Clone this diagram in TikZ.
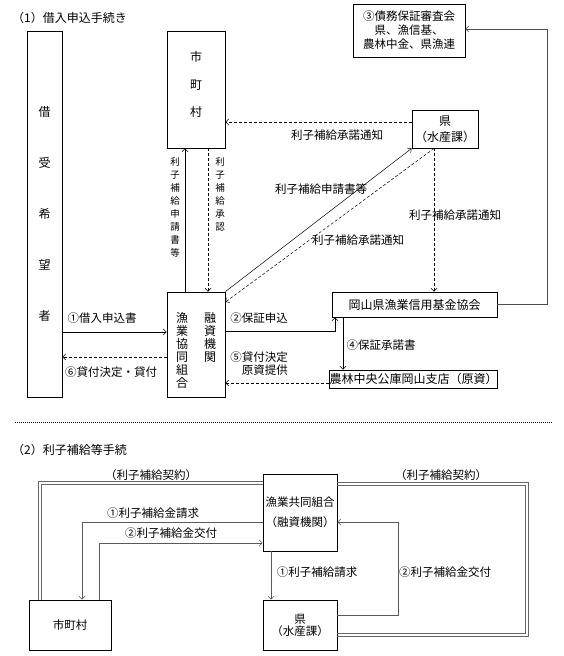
\documentclass[tikz,border=0pt]{standalone}
\usepackage{fontspec}
\setmainfont{Noto Sans CJK JP}
\usetikzlibrary{arrows.meta}
\begin{document}
\begin{tikzpicture}[x=1pt,y=-1pt,
  box/.style={draw, line width=0.9pt, inner sep=0pt, align=center, font=\fontsize{12}{14}\selectfont},
  lbl/.style={inner sep=0pt, font=\fontsize{11.5}{13}\selectfont},
  vlbl/.style={inner sep=0pt, align=center, font=\fontsize{9.5}{13}\selectfont},
  con/.style={line width=0.5pt, -{Straight Barb[length=3pt,width=6pt]}},
  dsh/.style={con, dash pattern=on 3pt off 2pt},
  con2/.style={con, draw=black!65},
  dline/.style={draw=black!60, line width=0.8pt}]
\useasboundingbox (0,0) rectangle (563,656);

% ---------- part 1 ----------
\node[lbl, anchor=west, font=\fontsize{12}{14}\selectfont] (t1) at (12,18) {（1）借入申込手続き};

\node[box, minimum width=35pt, minimum height=366pt, font=\fontsize{12}{51}\selectfont] (borrower) at (44.5,214) {借\\受\\希\\望\\者};

\node[box, minimum width=58pt, minimum height=117pt] (mc) at (196,89.5) {};
\node[inner sep=0pt, align=center, font=\fontsize{12}{27.5}\selectfont] (mctext) at (196,84.5) {市\\町\\村};

\node[box, minimum width=66pt, minimum height=38pt, font=\fontsize{12}{16}\selectfont] (ken) at (445,129) {県\\（水産課）};

\node[box, minimum width=112pt, minimum height=53pt, font=\fontsize{11.5}{14}\selectfont] (shinsa) at (409,30.5) {③債務保証審査会\\県、漁信基、\\農林中金、県漁連};

\node[box, minimum width=165pt, minimum height=25pt] (kikin) at (414.5,304.5) {岡山県漁業信用基金協会};
\node[box, minimum width=163pt, minimum height=18pt] (norin) at (413.5,379) {農林中央公庫岡山支店（原資）};

\node[box, minimum width=58pt, minimum height=105pt] (fish) at (196,344.5) {};
\node[inner sep=0pt, align=center, font=\fontsize{12}{13}\selectfont] (fishL) at (182,350.5) {漁\\業\\協\\同\\組\\合};
\node[inner sep=0pt, align=center, font=\fontsize{12}{13}\selectfont] (fishR) at (210,337.5) {融\\資\\機\\関};

% connectors part 1
\draw[con] (borrower.east |- 0,332) -- (fish.west |- 0,332);
\draw[dsh] (fish.west |- 0,357) -- (borrower.east |- 0,357);
\draw[con] (fish.north -| 185,0) -- (mc.south -| 185,0);
\draw[dsh] (mc.south -| 208,0) -- (fish.north -| 208,0);
\draw[dsh] (ken.west |- 0,122) -- (mc.east |- 0,122);
\draw[con] (fish.north east) -- (ken.south west);
\draw[dsh] (ken.south -| 434,0) -- (fish.east |- 0,302);
\draw[dsh] (ken.south -| 434,0) -- (kikin.north -| 434,0);
\draw[con] (fish.east |- 0,331) -| (kikin.south -| 335,0);
\draw[con] (kikin.south -| 343,0) -- (norin.north -| 343,0);
\draw[dsh] (norin.west |- 0,383) -- (fish.east |- 0,383);
\coordinate (rtop) at (547,29);
\draw[con, draw=black!70] (kikin.east) -| (rtop) -- (shinsa.east |- rtop);

% labels part 1
\node[lbl] (l1) at (337,135) {利子補給承諾通知};
\node[lbl] (l2) at (321,189) {利子補給申請書等};
\node[lbl] (l3) at (358,240) {利子補給承諾通知};
\node[lbl] (l4) at (455,215) {利子補給承諾通知};
\node[lbl] (l5) at (102,318) {①借入申込書};
\node[lbl] (l6) at (111,372) {⑥貸付決定・貸付};
\node[lbl] (l7) at (259,318) {②保証申込};
\node[lbl] (l8) at (381,345) {④保証承諾書};
\node[lbl, align=right, anchor=east] (l9) at (288,364) {⑤貸付決定\\原資提供};
\node[vlbl] (v1) at (175,207.5) {利\\子\\補\\給\\申\\請\\書\\等};
\node[vlbl] (v2) at (220,194.5) {利\\子\\補\\給\\承\\認};

% separator
\draw[line width=0.4pt, dash pattern=on 1pt off 1pt] (15,422) -- (552,422);

% ---------- part 2 ----------
\node[lbl, anchor=west, font=\fontsize{12}{14}\selectfont] (t2) at (12,450) {（2）利子補給等手続};

\node[box, minimum width=74pt, minimum height=77pt, font=\fontsize{11.5}{20}\selectfont] (gyo2) at (300,512.5) {漁業共同組合\\（融資機関）};
\node[box, minimum width=74pt, minimum height=50pt, font=\fontsize{11.5}{12}\selectfont] (ken2) at (300,625) {県\\（水産課）};
\node[box, minimum width=82pt, minimum height=50pt, font=\fontsize{11.5}{14}\selectfont] (mc2) at (70,625) {市町村};

% double contract lines (two parallel strokes)
\coordinate (lo) at (38.5,481.5);
\coordinate (li) at (41.5,484.5);
\draw[dline] (mc2.north -| lo) -- (lo) -- (gyo2.west |- lo);
\draw[dline] (mc2.north -| li) -- (li) -- (gyo2.west |- li);
\coordinate (ro1) at (528.5,482.5);
\coordinate (ro2) at (528.5,636.5);
\coordinate (ri1) at (525.5,485.5);
\coordinate (ri2) at (525.5,633.5);
\draw[dline] (gyo2.east |- ro1) -- (ro1) -- (ro2) -- (ken2.east |- ro2);
\draw[dline] (gyo2.east |- ri1) -- (ri1) -- (ri2) -- (ken2.east |- ri2);

\draw[con2] (gyo2.west |- 0,522) -| (mc2.north -| 82,0);
\draw[con2] (mc2.north -| 99,0) |- (gyo2.west |- 0,543);
\draw[con2] (gyo2.south -| 271,0) -- (ken2.north -| 271,0);
\coordinate (rr) at (398,615);
\draw[con2] (ken2.east |- rr) -- (rr) |- (gyo2.east |- 0,522);

\node[lbl] (m1) at (151,475) {（利子補給契約）};
\node[lbl] (m2) at (441,475) {（利子補給契約）};
\node[lbl] (m3) at (153,513) {①利子補給金請求};
\node[lbl] (m4) at (171,533) {②利子補給金交付};
\node[lbl] (m5) at (317,572) {①利子補給請求};
\node[lbl] (m6) at (445,572) {②利子補給金交付};
\end{tikzpicture}
\end{document}
